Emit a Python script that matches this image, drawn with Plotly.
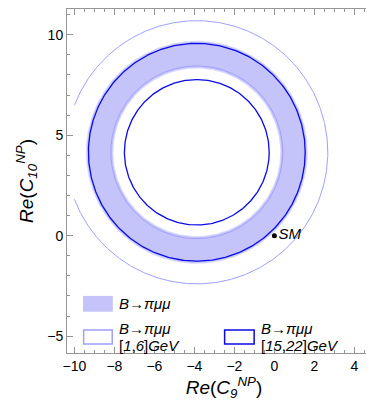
import numpy as np
import plotly.graph_objects as go

# Centre of all the allowed rings in the (C9, C10) plane
center_c9 = -3.88
center_c10 = 4.15

# combined B -> pi mu mu region (filled ring): inner / outer radius
band_r = [4.22, 5.5]
# [1,6] GeV bin ring (light outline), only computed for C9 >= -10
low_r = [4.3, 6.55]
low_c9_min = -10.0
# [15,22] GeV bin ring (dark outline)
high_r = [3.62, 5.42]

sm_point = [0.0, 0.0]

x_ticks = [-10, -8, -6, -4, -2, 0, 2, 4]
y_ticks = [-5, 0, 5, 10]

FILL = "rgb(196,196,250)"
LIGHT = "rgb(160,160,255)"
DARK = "rgb(10,10,230)"
FRAME = "rgb(150,150,150)"
FONT = "Liberation Sans, Arial, sans-serif"


def ring(r, n=400):
    t = np.linspace(0, 2 * np.pi, n)
    return center_c9 + r * np.cos(t), center_c10 + r * np.sin(t)


def clipped(r, xmin):
    x, y = ring(r, 800)
    x = np.where(x >= xmin, x, np.nan)
    y = np.where(np.isnan(x), np.nan, y)
    return x, y


fig = go.Figure()

# filled band: outer circle then inner circle reversed
xo, yo = ring(band_r[1])
xi, yi = ring(band_r[0])
fig.add_trace(go.Scatter(x=np.concatenate([xo, xi[::-1]]), y=np.concatenate([yo, yi[::-1]]),
                         mode="lines", fill="toself", fillcolor=FILL,
                         line=dict(color="rgba(196,196,250,0.6)", width=2),
                         hoverinfo="skip", showlegend=False))

for r in low_r:
    x, y = clipped(r, low_c9_min)
    fig.add_trace(go.Scatter(x=x, y=y, mode="lines", line=dict(color=LIGHT, width=1),
                             connectgaps=False, hoverinfo="skip", showlegend=False))

for r in high_r:
    x, y = ring(r)
    fig.add_trace(go.Scatter(x=x, y=y, mode="lines", line=dict(color=DARK, width=1.3),
                             hoverinfo="skip", showlegend=False))

fig.add_trace(go.Scatter(x=[sm_point[0]], y=[sm_point[1]], mode="markers+text",
                         marker=dict(color="black", size=5),
                         text=["<i>SM</i>"], textposition="middle right",
                         textfont=dict(family=FONT, size=15, color="black"),
                         hoverinfo="skip", showlegend=False))

# hand-made legend (paper coordinates)
shapes = [
    dict(type="rect", xref="paper", yref="paper", x0=0.051, x1=0.146, y0=0.12, y1=0.166,
         fillcolor=FILL, line=dict(width=0)),
    dict(type="rect", xref="paper", yref="paper", x0=0.053, x1=0.144, y0=0.026, y1=0.067,
         fillcolor="white", line=dict(color=LIGHT, width=1.5)),
    dict(type="rect", xref="paper", yref="paper", x0=0.502, x1=0.596, y0=0.026, y1=0.067,
         fillcolor="white", line=dict(color=DARK, width=1.5)),
]
tf = dict(family=FONT, size=15, color="black")
annotations = [
    dict(text="<i>B→πμμ</i>", x=0.16, y=0.143, xref="paper", yref="paper",
         xanchor="left", yanchor="middle", showarrow=False, font=tf),
    dict(text="<i>B→πμμ</i>", x=0.16, y=0.07, xref="paper", yref="paper",
         xanchor="left", yanchor="middle", showarrow=False, font=tf),
    dict(text="[<i>1</i>,<i>6</i>]<i>GeV</i>", x=0.16, y=0.021, xref="paper", yref="paper",
         xanchor="left", yanchor="middle", showarrow=False, font=tf),
    dict(text="<i>B→πμμ</i>", x=0.61, y=0.07, xref="paper", yref="paper",
         xanchor="left", yanchor="middle", showarrow=False, font=tf),
    dict(text="[<i>15</i>,<i>22</i>]<i>GeV</i>", x=0.61, y=0.021, xref="paper", yref="paper",
         xanchor="left", yanchor="middle", showarrow=False, font=tf),
]

axis_common = dict(showgrid=False, zeroline=False, showline=True, linecolor=FRAME, linewidth=1,
                   mirror="allticks", ticks="inside", ticklen=6, tickcolor=FRAME,
                   tickfont=dict(family=FONT, size=14, color="black"))

fig.update_layout(
    width=374, height=404,
    margin=dict(l=59, r=1, t=1, b=59),
    plot_bgcolor="white", paper_bgcolor="white",
    shapes=shapes, annotations=annotations,
    xaxis=dict(range=[-10.37, 5.33], tickvals=x_ticks,
               ticktext=["\u2212" + str(-v) if v < 0 else str(v) for v in x_ticks],
               minor=dict(dtick=0.5, ticks="inside", ticklen=3, tickcolor=FRAME),
               title=dict(text="<i>Re</i>(<i>C<sub>9</sub><sup>NP</sup></i>)",
                          font=dict(family=FONT, size=19, color="black"), standoff=6),
               **axis_common),
    yaxis=dict(range=[-5.84, 11.28], tickvals=y_ticks,
               ticktext=["\u2212" + str(-v) if v < 0 else str(v) for v in y_ticks],
               minor=dict(dtick=1, ticks="inside", ticklen=3, tickcolor=FRAME),
               title=dict(text="<i>Re</i>(<i>C<sub>10</sub><sup>NP</sup></i>)",
                          font=dict(family=FONT, size=19, color="black"), standoff=8),
               **axis_common),
)

fig.write_html("out.html")
